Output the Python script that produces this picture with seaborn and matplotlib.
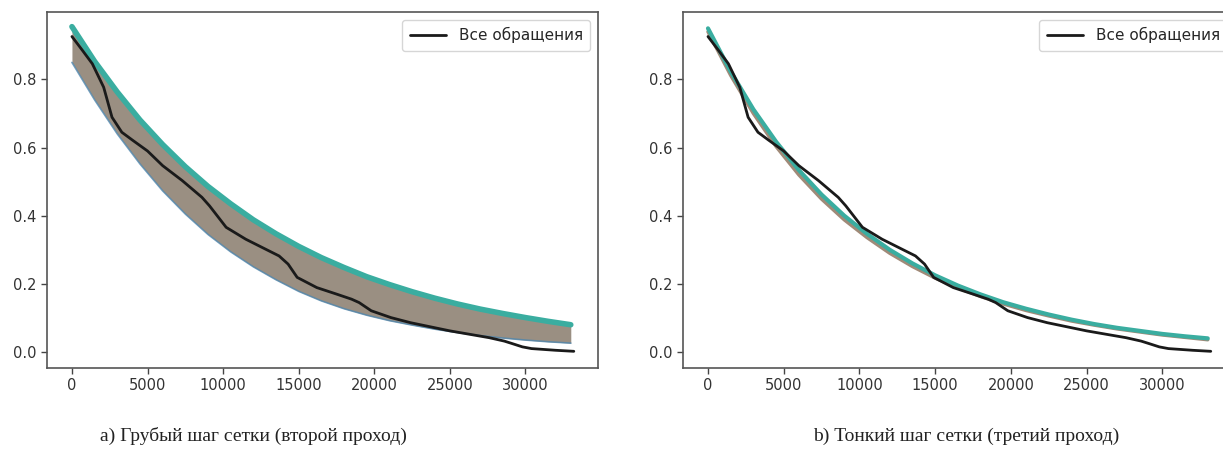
import numpy as np
import pandas as pd
import matplotlib
matplotlib.use("Agg")
import matplotlib.pyplot as plt
import seaborn as sns

# ---- data ----
grid_x = [0, 1500, 3000, 4500, 6000, 7500, 9000, 10500, 12000, 13500, 15000,
          16500, 18000, 19500, 21000, 22500, 24000, 25500, 27000, 28500,
          30000, 31500, 33000]

# coarse grid (panel a): upper and lower edge of the family of model curves
coarse_top = [0.955, 0.853, 0.763, 0.681, 0.609, 0.544, 0.486, 0.435, 0.388,
              0.347, 0.310, 0.277, 0.248, 0.221, 0.198, 0.177, 0.158, 0.141,
              0.126, 0.113, 0.101, 0.090, 0.080]
coarse_bottom = [0.850, 0.740, 0.640, 0.552, 0.473, 0.405, 0.345, 0.294, 0.250,
                 0.212, 0.178, 0.150, 0.127, 0.108, 0.092, 0.079, 0.067, 0.057,
                 0.048, 0.041, 0.035, 0.030, 0.026]

# fine grid (panel b): upper (teal) and lower (brown) model curves
fine_top = [0.950, 0.823, 0.712, 0.617, 0.534, 0.462, 0.400, 0.347, 0.300,
            0.260, 0.225, 0.195, 0.169, 0.146, 0.127, 0.110, 0.095, 0.082,
            0.071, 0.062, 0.053, 0.046, 0.040]
fine_bottom = [0.940, 0.812, 0.700, 0.603, 0.520, 0.449, 0.388, 0.336, 0.290,
               0.251, 0.217, 0.188, 0.163, 0.141, 0.122, 0.106, 0.091, 0.079,
               0.068, 0.059, 0.050, 0.043, 0.036]

# observed curve "Все обращения"
obs_x = [0, 700, 1350, 2100, 2650, 3300, 4000, 5000, 6000, 7300, 8600, 9100,
         10200, 11500, 12800, 13700, 14300, 14900, 16200, 17500, 18500, 19000,
         19800, 21100, 22400, 23700, 25000, 26300, 27600, 28600, 29100, 29800,
         30400, 32000, 33200]
obs_y = [0.926, 0.885, 0.846, 0.777, 0.689, 0.645, 0.622, 0.590, 0.547, 0.503,
         0.454, 0.429, 0.366, 0.331, 0.302, 0.282, 0.258, 0.219, 0.189, 0.170,
         0.155, 0.145, 0.121, 0.101, 0.086, 0.074, 0.062, 0.052, 0.042, 0.032,
         0.025, 0.015, 0.010, 0.005, 0.002]

legend_label = "Все обращения"
captions = ["a) Грубый шаг сетки (второй проход)",
            "b) Тонкий шаг сетки (третий проход)"]
xticks = [0, 5000, 10000, 15000, 20000, 25000, 30000]
yticks = [0.0, 0.2, 0.4, 0.6, 0.8]

# ---- styling ----
sns.set_style("ticks")
plt.rcParams["font.family"] = ["DejaVu Sans"]
plt.rcParams["axes.edgecolor"] = "#555555"
plt.rcParams["xtick.color"] = "#444444"
plt.rcParams["ytick.color"] = "#444444"
plt.rcParams["xtick.labelcolor"] = "#333333"
plt.rcParams["ytick.labelcolor"] = "#333333"

TEAL = "#3aada0"
BAND = "#9a8f82"
BROWN = "#a08a78"
BLUE = "#4f86ad"

fig = plt.figure(figsize=(12.23, 4.61), dpi=100)
ax1 = fig.add_axes([47 / 1223, 93 / 461, 551 / 1223, 356 / 461])
ax2 = fig.add_axes([683 / 1223, 93 / 461, 552 / 1223, 356 / 461])

obs_df = pd.DataFrame({"x": obs_x, "y": obs_y})

# panel a
ax1.fill_between(grid_x, coarse_bottom, coarse_top, color=BAND, lw=0)
sns.lineplot(x=grid_x, y=coarse_bottom, ax=ax1, color=BLUE, lw=1.2, alpha=0.8)
sns.lineplot(x=grid_x, y=coarse_top, ax=ax1, color=TEAL, lw=4.0)
sns.lineplot(data=obs_df, x="x", y="y", ax=ax1, color="#1a1a1a", lw=2.0,
             label=legend_label)

# panel b
sns.lineplot(x=grid_x, y=fine_bottom, ax=ax2, color=BROWN, lw=2.5)
sns.lineplot(x=grid_x, y=fine_top, ax=ax2, color=TEAL, lw=3.0)
sns.lineplot(data=obs_df, x="x", y="y", ax=ax2, color="#1a1a1a", lw=2.0,
             label=legend_label)

for ax in (ax1, ax2):
    ax.set_xlim(-1650, 34800)
    ax.set_ylim(-0.047, 0.998)
    ax.set_xticks(xticks)
    ax.set_yticks(yticks)
    ax.set_xticklabels([str(t) for t in xticks])
    ax.set_yticklabels([f"{t:.1f}" for t in yticks])
    ax.tick_params(labelsize=10.5, length=4, width=1)
    ax.set_xlabel("")
    ax.set_ylabel("")
    for s in ax.spines.values():
        s.set_visible(True)
        s.set_linewidth(1.2)
    leg = ax.legend(loc="upper right", fontsize=11, frameon=True,
                    handlelength=2.4, borderpad=0.5)
    leg.get_frame().set_edgecolor("#cccccc")
    for line in ax.get_lines():
        line.set_solid_joinstyle("round")
        line.set_solid_capstyle("round")

fig.text(253 / 1223, 1 - 441 / 461, captions[0], ha="center", va="baseline",
         fontsize=14, family="Liberation Serif", color="#222222")
fig.text(966 / 1223, 1 - 441 / 461, captions[1], ha="center", va="baseline",
         fontsize=14, family="Liberation Serif", color="#222222")

fig.savefig("out.png", dpi=100)
